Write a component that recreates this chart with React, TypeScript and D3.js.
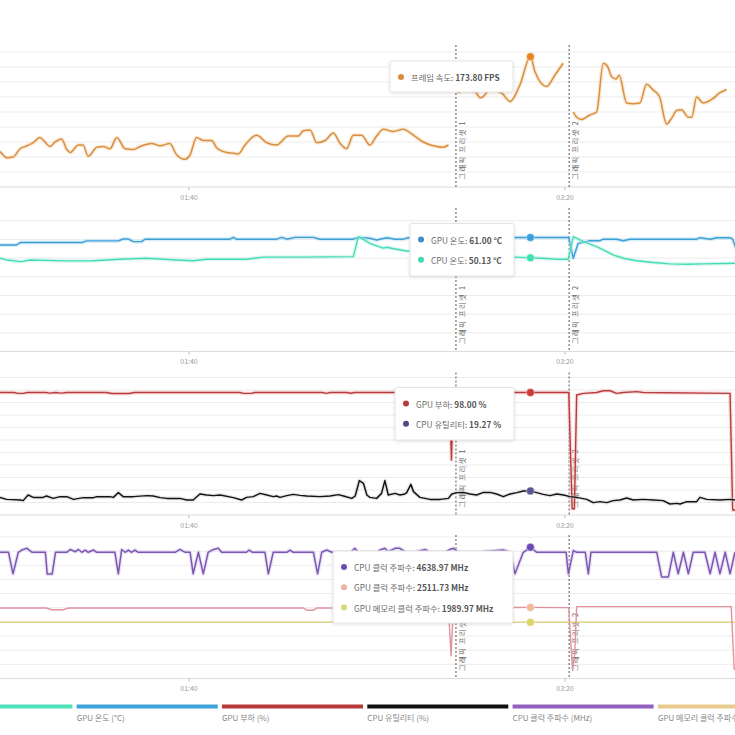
import React from 'react';
import * as d3 from 'd3';

type P = [number, number];

// ---------- data (time in seconds, value) ----------
const xTickValues = [100, 200];

const presetMarks = [
  { t: 171.0, label: '그래픽 프리셋 1' },
  { t: 201.1, label: '그래픽 프리셋 2' },
];

const hoverT = 190.8;

const fpsSeg1: P[] = [[48,50],[49.7,47],[51.5,39],[53.2,40],[55.1,51],[56.9,55],[58.6,59],[60.3,66],[61.7,60],[63.0,54],[64.4,60],[66.1,64],[67.5,50],[68.4,46],[70.6,56],[71.8,56],[73.2,41],[75.5,53],[77.2,54],[79.0,51],[80.8,66],[83.0,51],[85.2,50],[87.0,54],[90.1,58],[92.3,55],[94.9,58],[96.7,43],[98.9,37],[100.3,43],[102.0,66],[103.8,62],[106.0,62],[107.4,52],[110.0,46],[111.8,45],[113.1,44],[114.9,56],[118.0,69],[120.7,59],[123.3,56],[126.4,68],[129.1,68],[130.4,75],[132.2,76],[134.0,59],[136.2,62],[138.4,72],[140.2,58],[141.9,51],[143.7,69],[145.9,69],[148.1,56],[149.9,68],[151.7,77],[154.3,74],[157.0,77],[159.7,69],[162.3,60],[165.0,55],[167.6,53],[169.0,56]];
const fpsSeg2: P[] = [[171.4,126],[173.4,128],[176.1,127],[177.4,119],[178.1,120],[180.1,130],[183.2,125],[185.4,114],[188.0,136],[190.8,173.8],[192.0,154],[195.1,134],[197.3,149],[199.5,165]];
const fpsSeg3: P[] = [[202.2,100],[203.1,93],[204.4,90],[206.6,96],[208.4,100],[210.2,165],[211.3,161],[212.4,147],[213.6,144],[214.4,149],[216.4,112],[218.2,111],[219.9,112],[221.7,137],[223.5,129],[225.1,121],[227.0,84],[228.4,92],[229.7,102],[231.0,103],[232.8,93],[233.7,93],[235.0,120],[236.8,112],[239.4,118],[241.0,125],[243.0,130]];

const gpuTemp: P[] = [[48,57],[54.1,57],[55.1,58.3],[71.5,58.3],[72.8,59.2],[81.2,59.2],[82.5,60.2],[83.9,60.2],[85.2,58.8],[87.4,58.8],[88.3,60.1],[110.9,60.1],[111.8,61.1],[112.6,60.1],[123.3,60.1],[124.7,61.1],[126.0,60.1],[128.2,61.1],[133.1,61.1],[134.8,60.1],[143.7,60.1],[145.0,61.1],[148.1,60.6],[149.9,59.7],[152.6,60.9],[154.8,60.1],[157.0,60.1],[158.3,60.9],[165,61],[175,60.1],[180,61],[201.0,61],[202.2,49.9],[203.5,57.9],[205.8,58.8],[206.6,59.3],[209.3,59.3],[210.2,60.1],[213.7,60.1],[215.5,59.3],[217.3,60.1],[235.0,60.1],[235.9,60.9],[238.6,60.1],[240.3,60.9],[243.9,60.9],[244.6,60.1],[245.5,55]];
const cpuTemp: P[] = [[48,50],[49.7,49.9],[51.5,49.0],[55.5,48.1],[57.7,49.0],[67.5,48.5],[74.5,48.6],[81.6,49.4],[88.7,49.9],[96.7,49.0],[101.1,48.6],[104.7,49.4],[111.8,49.4],[115.3,49.4],[119.8,50.5],[129.5,50.5],[143.7,50.8],[145.0,61.1],[145.5,61.1],[148.1,57.9],[149.9,56.5],[151.7,55.3],[152.6,55.8],[155.2,54.7],[157.9,53.8],[165,52.5],[175,51.5],[182,50.9],[186.7,50.5],[190.8,50.13],[194.2,49.9],[197.8,49.4],[200.9,49.4],[202.2,61.5],[204.9,58.8],[208.4,56.1],[210.2,54.4],[212.8,51.7],[215.5,49.9],[219.1,48.6],[223.5,47.6],[227.9,46.9],[232.4,46.7],[236.8,46.9],[245.2,47.2]];

const gpuLoad: P[] = [[48,98],[53.5,98],[54.5,97.3],[56,97.3],[57,98],[62,98],[63,97.5],[64.5,98],[66,97.5],[67.5,98],[78,98],[79.5,97.2],[84,97.2],[85.5,98],[113.5,98],[114.5,97.3],[116.5,97.3],[117.5,98],[135.5,98],[136.5,97.3],[137.5,98],[142,98],[143,97.4],[144,98],[169.3,98],[169.8,44],[170.3,98],[201.0,98],[201.9,5],[202.5,5],[203.1,96],[204.9,97.3],[208.4,98],[210.2,99.4],[212.0,99.4],[213.7,97.3],[215.5,98],[219.1,98.7],[220.8,98],[243.9,97.3],[244.6,4],[246,4]];
const cpuUtil: P[] = [[48,14],[49.7,14.1],[51.5,12.5],[55.1,12.0],[55.9,11.5],[57.2,16.0],[58.6,14.1],[61.2,14.1],[62.1,15.2],[63.9,13.3],[65.7,14.7],[67.5,14.7],[69.3,12.5],[71.9,13.9],[74.6,13.9],[75.5,14.7],[79.0,14.7],[79.9,14.1],[81.2,17.9],[82.5,14.7],[85.2,14.7],[88.8,15.5],[90.5,15.2],[92.3,13.9],[94.1,13.3],[97.6,13.3],[99.4,12.0],[101.1,12.0],[102.9,16.8],[104.7,16.0],[106.5,15.5],[108.3,16.0],[111.8,13.9],[114.0,12.0],[115.3,14.1],[117.1,14.7],[118.9,17.3],[120.7,16.0],[122.4,14.7],[123.3,15.2],[124.2,14.1],[126.0,15.5],[127.7,16.5],[129.5,15.7],[131.3,15.2],[134.8,14.7],[137.5,15.2],[139.7,16.3],[141.1,15.2],[143.3,13.3],[144.2,15.2],[145.3,27.5],[146.4,25.3],[147.3,16.0],[148.1,14.1],[149.9,13.3],[151.2,17.3],[152.1,27.5],[153.0,16.0],[154.8,17.3],[156.1,16.0],[157.4,16.8],[157.9,17.9],[159.0,24.5],[159.7,18.7],[161.4,14.1],[164.1,12.5],[166.8,12.5],[169.0,13.3],[169.9,16.8],[171.2,17.9],[173.0,18.1],[174.7,16.8],[176.5,16.0],[178.3,18.1],[180.1,18.1],[181.8,16.8],[183.6,14.7],[185.4,16.8],[187.2,17.9],[188.9,19.2],[190.8,19.27],[192.5,17.9],[194.2,16.5],[196.0,15.5],[197.8,16.8],[199.6,16.0],[201.3,14.7],[203.1,14.1],[205.8,12.5],[207.5,9.9],[209.3,10.7],[211.1,9.9],[212.8,11.5],[214.6,12.0],[216.4,13.6],[218.2,12.0],[220.8,12.5],[223.5,12.0],[226.1,11.5],[227.9,8.8],[229.7,9.3],[230.6,8.8],[232.4,10.7],[235.0,10.7],[235.9,14.1],[237.7,12.5],[241.2,12.0],[243.9,12.5],[245.2,12.0]];

const cpuClock: P[] = [[48,4460],[52.0,4460],[53.2,3700],[54.6,4460],[55.5,4540],[56.9,4600],[58.3,4460],[61.8,4460],[62.3,3690],[63.6,3690],[64.5,4460],[67.5,4460],[68.4,4560],[69.8,4480],[70.6,4560],[71.5,4460],[72.4,4540],[73.2,4460],[74.6,4540],[75.5,4460],[80.3,4460],[81.2,3700],[82.1,4560],[83.0,4460],[83.9,4540],[84.7,4460],[85.6,4540],[86.5,4460],[96.3,4460],[97.6,4560],[99.0,4460],[100.3,4460],[101.1,3700],[102.5,4460],[103.8,3700],[105.1,4460],[106.5,4560],[107.8,4600],[108.7,4460],[115.3,4460],[116.0,4540],[116.9,4460],[120.2,4460],[121.1,3700],[122.4,4460],[126.0,4460],[126.9,4540],[127.7,4460],[133.1,4460],[134.2,3700],[135.3,4460],[136.6,4540],[138.0,4460],[143,4460],[144.1,4600],[145,4460],[150,4460],[150.8,4540],[152.1,4600],[153.0,4480],[154.8,4600],[156.1,4600],[157.4,4480],[160,4460],[162.8,4560],[164,4460],[168,4460],[169.4,4560],[170.3,4600],[171.5,4480],[176,4460],[183.6,4540],[185.5,4460],[186.7,3700],[188.9,4460],[189.8,4540],[190.8,4639],[192.5,4460],[200.3,4460],[200.9,3700],[202.2,4520],[203.1,4460],[205.4,4460],[206.2,3700],[206.9,4460],[224.4,4460],[225.7,3590],[227.5,3590],[228.8,4460],[230.1,3700],[231.5,4460],[232.8,3700],[234.1,4460],[237.2,4460],[238.6,3700],[239.9,4460],[241.2,3700],[242.6,4460],[243.9,3700],[245.2,4460]];
const gpuClock: P[] = [[48,2490],[62,2490],[63.5,2430],[66.5,2430],[68,2490],[130.5,2490],[131.5,2410],[133,2410],[134,2490],[169.0,2495],[169.7,800],[170.3,2495],[190.8,2511.73],[201.0,2505],[202.0,280],[202.6,900],[203.1,2540],[244.2,2540],[245.0,300]];
const memClock: P[] = [[48,1990],[246,1990]];

// legend: first entry's label lies outside the visible crop, only its bar shows
const legendLabels = ['', 'GPU 온도 (°C)', 'GPU 부하 (%)', 'CPU 유틸리티 (%)', 'CPU 클럭 주파수 (MHz)', 'GPU 메모리 클럭 주파수 (MHz)'];
const legendColors = ['#4fe0b9', '#3ea3d9', '#b83a3a', '#111111', '#9161c2', '#e8cb8e'];

// ---------- layout ----------
const FONT = "'Noto Sans CJK KR', 'Noto Sans', sans-serif";

type Line = { segs: P[][]; color: string; halo?: string; width?: number; curve?: boolean };
type Tip = { name: string; value: string; dot: string; marker: string; v: number };

const panels: {
  top: number; bottom: number; yMax: number; step: number; lines: Line[];
  tip: { x: number; y: number; w: number; h: number; rows: Tip[] };
}[] = [
  {
    top: 45, bottom: 187, yMax: 189.3, step: 20,
    lines: [{ segs: [fpsSeg1, fpsSeg2, fpsSeg3], color: '#d98f42', halo: '#f3cf9f', width: 1.5, curve: true }],
    tip: { x: 390, y: 61, w: 123, h: 31, rows: [
      { name: '프레임 속도', value: '173.80 FPS', dot: '#d98c3c', marker: '#e8842a', v: 173.8 },
    ] },
  },
  {
    top: 208, bottom: 351.5, yMax: 76.8, step: 10,
    lines: [
      { segs: [gpuTemp], color: '#3b9fd6', halo: '#a9d8f0', width: 1.4 },
      { segs: [cpuTemp], color: '#44dcb6', halo: '#b5f0e0', width: 1.4 },
    ],
    tip: { x: 410, y: 223.5, w: 104, h: 52.5, rows: [
      { name: 'GPU 온도', value: '61.00 °C', dot: '#3a8fc8', marker: '#38a0dc', v: 61.0 },
      { name: 'CPU 온도', value: '50.13 °C', dot: '#46d9b0', marker: '#3fe0b0', v: 50.13 },
    ] },
  },
  {
    top: 372.5, bottom: 515, yMax: 114, step: 10,
    lines: [
      { segs: [gpuLoad], color: '#b93b3d', halo: '#f0b8b8', width: 1.4 },
      { segs: [cpuUtil], color: '#141414', halo: '#cccccc', width: 1.5 },
    ],
    tip: { x: 395, y: 387.5, w: 119, h: 52.5, rows: [
      { name: 'GPU 부하', value: '98.00 %', dot: '#b83b3d', marker: '#c93a3a', v: 98.0 },
      { name: 'CPU 유틸리티', value: '19.27 %', dot: '#4b4a86', marker: '#5a5596', v: 19.27 },
    ] },
  },
  {
    top: 535, bottom: 678.5, yMax: 5071, step: 500,
    lines: [
      { segs: [memClock], color: '#e5d58e', width: 1.4 },
      { segs: [gpuClock], color: '#e0939f', width: 1.4 },
      { segs: [cpuClock], color: '#7d58b3', halo: '#d2c2ea', width: 1.5 },
    ],
    tip: { x: 333, y: 551, w: 180, h: 72, rows: [
      { name: 'CPU 클럭 주파수', value: '4638.97 MHz', dot: '#6a4cb0', marker: '#6f4bb4', v: 4638.97 },
      { name: 'GPU 클럭 주파수', value: '2511.73 MHz', dot: '#e8b4a0', marker: '#f2b89a', v: 2511.73 },
      { name: 'GPU 메모리 클럭 주파수', value: '1989.97 MHz', dot: '#d8d878', marker: '#dcd468', v: 1989.97 },
    ] },
  },
];

const fmtTime = (t: number) =>
  `${String(Math.floor(t / 60)).padStart(2, '0')}:${String(t % 60).padStart(2, '0')}`;

export default function App() {
  const x = d3.scaleLinear().domain([100, 200]).range([189, 565]);
  const legendX = d3.scaleLinear().domain([0, 1]).range([-68.6, 76.7]);

  return (
    <div style={{ position: 'fixed', left: 0, top: 0, width: 735, height: 735, background: '#fff' }}>
      <svg width={735} height={735} style={{ display: 'block' }} fontFamily={FONT}>
        <defs>
          <filter id="shadow" x="-10%" y="-20%" width="120%" height="150%">
            <feDropShadow dx="0" dy="1" stdDeviation="1.5" floodColor="#000" floodOpacity="0.12" />
          </filter>
        </defs>
        <rect width={735} height={735} fill="#fff" />
        {panels.map((p, pi) => {
          const y = d3.scaleLinear().domain([0, p.yMax]).range([p.bottom, p.top]);
          const grid = d3.range(p.step, p.yMax, p.step);
          return (
            <g key={pi}>
              {grid.map((g) => (
                <line key={g} x1={0} x2={735} y1={y(g)} y2={y(g)} stroke="#ececec" strokeWidth={1} />
              ))}
              <line x1={0} x2={735} y1={y(0)} y2={y(0)} stroke="#dcdcdc" strokeWidth={1.2} />
              {xTickValues.map((t) => (
                <g key={t}>
                  <line x1={x(t)} x2={x(t)} y1={p.bottom} y2={p.bottom + 3} stroke="#bbb" />
                  <text x={x(t)} y={p.bottom + 12.5} fontSize={7} fill="#999" textAnchor="middle">
                    {fmtTime(t)}
                  </text>
                </g>
              ))}
              {presetMarks.map((m) => (
                <g key={m.label}>
                  <line x1={x(m.t)} x2={x(m.t)} y1={p.top} y2={p.bottom} stroke="#555" strokeWidth={1} strokeDasharray="2,2" />
                  <text
                    transform={`translate(${x(m.t) + 5.7},${p.bottom - 7.5}) rotate(-90)`}
                    fontSize={7.3}
                    letterSpacing={1.3}
                    fill="#666"
                    dominantBaseline="central"
                  >
                    {m.label}
                  </text>
                </g>
              ))}
              {p.lines.map((l, li) => {
                const gen = d3.line<P>().x((d) => x(d[0])).y((d) => y(d[1]));
                if (l.curve) gen.curve(d3.curveMonotoneX);
                return (
                  <g key={li}>
                    {l.segs.map((s, si) => (
                      <g key={si}>
                        {l.halo && (
                          <path d={gen(s) || ''} fill="none" stroke={l.halo} strokeWidth={4} strokeOpacity={0.45} strokeLinejoin="round" />
                        )}
                        <path d={gen(s) || ''} fill="none" stroke={l.color} strokeWidth={l.width || 1.5} strokeLinejoin="round" />
                      </g>
                    ))}
                  </g>
                );
              })}
              {p.tip.rows.map((r) => (
                <circle key={r.name} cx={x(hoverT)} cy={y(r.v)} r={4} fill={r.marker} stroke="#fff" strokeWidth={0.8} strokeOpacity={0.6} />
              ))}
              <g>
                <rect x={p.tip.x} y={p.tip.y} width={p.tip.w} height={p.tip.h} rx={2} fill="#fff" stroke="#e4e4e4" filter="url(#shadow)" />
                {p.tip.rows.map((r, ri) => {
                  const cy = p.tip.y + 16 + ri * 20.3;
                  return (
                    <g key={r.name}>
                      <circle cx={p.tip.x + 11} cy={cy} r={3} fill={r.dot} />
                      <text x={p.tip.x + 21} y={cy} dominantBaseline="central" fontSize={8.3} fill="#6a6a6a">
                        {r.name}: <tspan fontWeight="bold" fill="#555">{r.value}</tspan>
                      </text>
                    </g>
                  );
                })}
              </g>
            </g>
          );
        })}
        {legendLabels.map((lab, i) => {
          const lx = legendX(i);
          return (
            <g key={i}>
              <line x1={lx} x2={lx + 141} y1={706.5} y2={706.5} stroke={legendColors[i]} strokeWidth={4} />
              {lab && (
                <text x={lx} y={717.5} fontSize={8} fill="#888" dominantBaseline="central">{lab}</text>
              )}
            </g>
          );
        })}
      </svg>
    </div>
  );
}
